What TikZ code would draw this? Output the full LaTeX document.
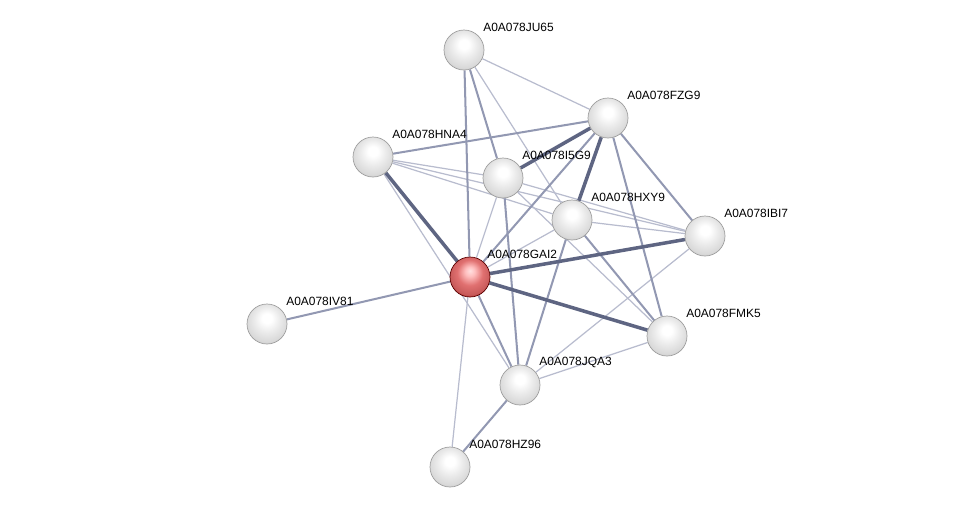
\documentclass[tikz,border=0pt]{standalone}
\usepackage{fontspec}
\setmainfont{Liberation Sans}
\usepackage{tikz}
\usetikzlibrary{backgrounds}

\definecolor{edgelite}{RGB}{184,188,206}
\definecolor{edgemid}{RGB}{146,152,178}
\definecolor{edgedark}{RGB}{94,101,130}

\pgfdeclareradialshading{protsphere}{\pgfpoint{0bp}{8bp}}{%
  color(0bp)=(white); color(6bp)=(white); color(16bp)=(gray!16);
  color(26bp)=(gray!30); color(32bp)=(gray!50); color(50bp)=(gray!70)}
\pgfdeclareradialshading{querysphere}{\pgfpoint{0bp}{8bp}}{%
  color(0bp)=(red!12!white); color(6bp)=(red!25!white); color(16bp)=(red!50!white!88!black);
  color(26bp)=(red!55!white!78!black); color(32bp)=(red!65!black); color(50bp)=(red!45!black)}

\tikzset{
  prot/.style={circle, minimum size=0.8cm, inner sep=0pt, shading=protsphere, draw=gray!75, line width=0.4pt},
  query/.style={prot, shading=querysphere, draw=red!35!black},
  lbl/.style={font=\fontsize{6.8}{8}\selectfont, anchor=west, inner sep=0pt},
  lite/.style={line width=0.7pt, edgelite},
  mid/.style={line width=1.15pt, edgemid},
  heavy/.style={line width=2pt, edgedark},
}

\begin{document}
\begin{tikzpicture}[x=0.02cm, y=-0.02cm]
  \useasboundingbox (0,0) rectangle (976,512);

  % Proteins
  \foreach \n/\x/\y/\t in {jua/464/50/A0A078JU65, fzg/608/118/A0A078FZG9,
      hna/373/157/A0A078HNA4, iog/503/178/A0A078I5G9, hxy/572/220/A0A078HXY9,
      ibi/705/236/A0A078IBI7, ivx/267/324/A0A078IV81, fmk/667/336/A0A078FMK5,
      jqa/520/385/A0A078JQA3, hzn/450/467/A0A078HZ96}{
    \node[prot] (\n) at (\x,\y) {};
    \node[lbl] at (\x+19,\y-23) {\t};
  }
  % Query protein
  \node[query] (gai) at (470,277) {};
  \node[lbl] at (470+17,277-23) {A0A078GAI2};

  % Interactions
  \begin{scope}[on background layer]
    \foreach \a/\b in {jua/fzg, jua/hxy, hna/iog, hna/hxy, hna/ibi, hna/jqa,
        gai/iog, gai/hxy, gai/hzn, iog/ibi, iog/fmk, hxy/ibi, ibi/jqa, fmk/jqa}
      \draw[lite] (\a) -- (\b);
    \foreach \a/\b in {jua/gai, jua/iog, hna/fzg, fzg/gai, fzg/fmk, fzg/ibi,
        iog/jqa, hxy/jqa, gai/jqa, jqa/hzn, gai/ivx, hxy/fmk}
      \draw[mid] (\a) -- (\b);
    \foreach \a/\b in {hna/gai, gai/ibi, gai/fmk, fzg/hxy, fzg/iog}
      \draw[heavy] (\a) -- (\b);
  \end{scope}
\end{tikzpicture}
\end{document}
